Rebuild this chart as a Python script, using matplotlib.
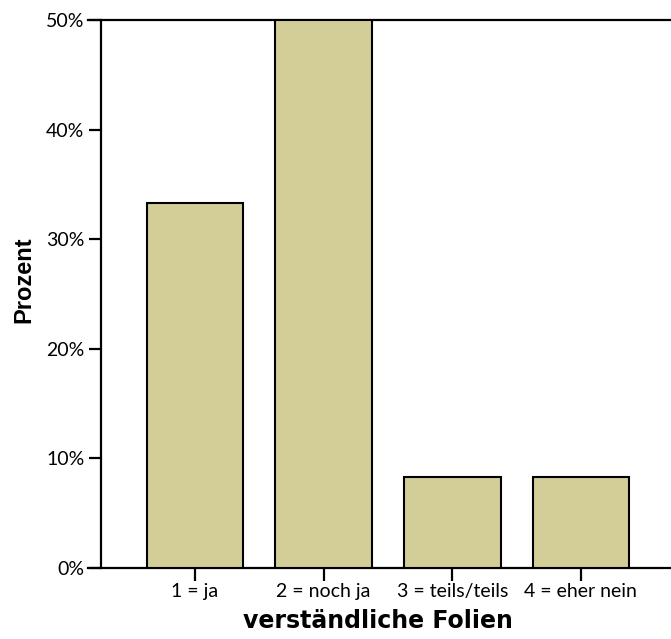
import matplotlib
matplotlib.use("Agg")
import matplotlib.pyplot as plt
from matplotlib.ticker import FuncFormatter

categories = ["1 = ja", "2 = noch ja", "3 = teils/teils", "4 = eher nein"]
values = [33.33, 50.0, 8.33, 8.33]
yticks = [0, 10, 20, 30, 40, 50]

plt.rcParams['font.family'] = ['Lato', 'DejaVu Sans']

fig = plt.figure(figsize=(6.71, 6.39), dpi=100)
ax = fig.add_axes([101/671, 71/639, 1 - 101/671, 548/639])

x = list(range(len(categories)))
ax.bar(x, values, width=0.75, color="#d3ce98", edgecolor="black", linewidth=1.5, zorder=3)

ax.set_xlim(-0.73, 3.70)
ax.set_ylim(0, 50)
ax.set_yticks(yticks)
ax.yaxis.set_major_formatter(FuncFormatter(lambda v, p: f"{int(v)}%"))
ax.set_xticks(x)
ax.set_xticklabels(categories)

ax.spines["right"].set_visible(False)
for s in ["left", "bottom", "top"]:
    ax.spines[s].set_linewidth(1.6)
ax.spines["bottom"].set_bounds(-0.83, 3.70)
ax.spines["bottom"].set_clip_on(False)
ax.spines["top"].set_bounds(-0.83, 3.70)
ax.spines["top"].set_clip_on(False)

ax.tick_params(axis="both", direction="out", length=9, width=1.6, labelsize=14, pad=3)
ax.tick_params(axis="x", pad=2)

ax.set_ylabel("Prozent", fontsize=17, fontweight="bold", family=["Liberation Sans", "DejaVu Sans"])
ax.yaxis.set_label_coords(-0.116, 0.5255)
ax.set_xlabel("verständliche Folien", fontsize=17, fontweight="bold", family=["DejaVu Sans"])
ax.xaxis.set_label_coords(0.485, -0.075)

fig.savefig("out.png", dpi=100)
